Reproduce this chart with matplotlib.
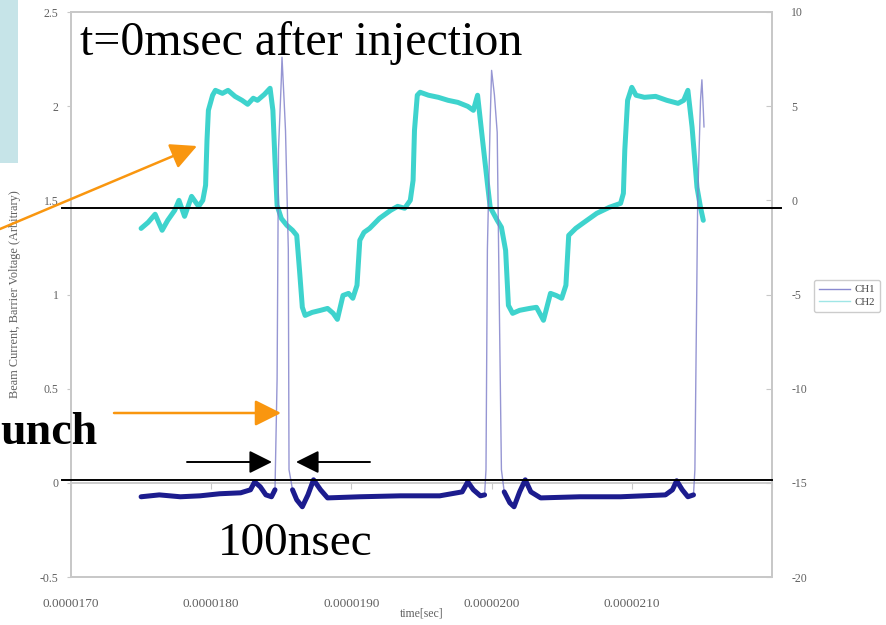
import numpy as np
import matplotlib
matplotlib.use("Agg")
import matplotlib.pyplot as plt
from matplotlib.ticker import FormatStrFormatter
from matplotlib.lines import Line2D
import matplotlib.transforms as mtrans

plt.rcParams["axes.unicode_minus"] = False

# ---------------- data (time in microseconds) ----------------
ch1_t_us = [17.50, 17.63, 17.78, 17.92, 18.06, 18.21, 18.28, 18.31, 18.35, 18.39,
            18.43, 18.455, 18.47, 18.48, 18.50, 18.505, 18.52, 18.53, 18.55, 18.555,
            18.58, 18.61, 18.65, 18.69, 18.73, 18.78, 18.83, 19.06, 19.35, 19.63,
            19.79, 19.83, 19.87, 19.92, 19.95, 19.96, 19.97, 19.99, 20.00, 20.02,
            20.04, 20.05, 20.07, 20.09, 20.13, 20.16, 20.20, 20.24, 20.28, 20.35,
            20.63, 20.92, 21.24, 21.29, 21.32, 21.36, 21.40, 21.44, 21.45, 21.47,
            21.49, 21.50, 21.51, 21.515]
ch1_val = [-0.074, -0.064, -0.074, -0.069, -0.058, -0.053, -0.037, 0.005, -0.021, -0.064,
           -0.074, -0.037, 0.55, 1.77, 2.14, 2.26, 2.03, 1.87, 1.24, 0.07,
           -0.037, -0.09, -0.127, -0.064, 0.016, -0.037, -0.080, -0.074, -0.069, -0.069,
           -0.048, 0.005, -0.037, -0.069, -0.064, 0.07, 1.24, 1.93, 2.19, 2.06,
           1.86, 1.24, 0.07, -0.048, -0.106, -0.127, -0.048, 0.016, -0.048, -0.080,
           -0.074, -0.074, -0.064, -0.037, 0.011, -0.037, -0.074, -0.064, 0.07, 1.50,
           2.03, 2.14, 1.98, 1.89]

ch2_t_us = [17.50, 17.55, 17.60, 17.65, 17.69, 17.74, 17.77, 17.81, 17.86, 17.91,
            17.94, 17.96, 17.97, 17.98, 18.01, 18.03, 18.08, 18.12, 18.17, 18.22,
            18.26, 18.30, 18.33, 18.38, 18.42, 18.44, 18.455, 18.47, 18.50, 18.54,
            18.58, 18.61, 18.63, 18.65, 18.67, 18.72, 18.78, 18.83, 18.87, 18.90,
            18.94, 18.98, 19.01, 19.04, 19.06, 19.09, 19.13, 19.20, 19.28, 19.33,
            19.38, 19.42, 19.44, 19.45, 19.47, 19.49, 19.55, 19.62, 19.69, 19.76,
            19.83, 19.87, 19.90, 19.93, 19.97, 19.99, 20.04, 20.07, 20.10, 20.12,
            20.15, 20.20, 20.27, 20.32, 20.37, 20.42, 20.46, 20.50, 20.53, 20.55,
            20.60, 20.65, 20.75, 20.84, 20.92, 20.94, 20.95, 20.97, 21.00, 21.03,
            21.09, 21.17, 21.25, 21.33, 21.37, 21.40, 21.43, 21.465, 21.49, 21.51]
ch2_val = [-1.49, -1.17, -0.74, -1.59, -1.06, -0.53, 0.00, -0.85, 0.21, -0.32,
           0.00, 0.80, 3.19, 4.78, 5.58, 5.84, 5.68, 5.84, 5.52, 5.31,
           5.10, 5.42, 5.31, 5.63, 5.95, 4.78, 2.12, -0.27, -0.96, -1.33,
           -1.59, -1.86, -3.72, -5.68, -6.11, -5.95, -5.84, -5.74, -6.00, -6.32,
           -5.05, -4.94, -5.20, -4.51, -2.12, -1.70, -1.49, -0.96, -0.53, -0.32,
           -0.42, 0.00, 1.06, 3.72, 5.58, 5.74, 5.58, 5.47, 5.31, 5.20,
           4.99, 4.78, 5.58, 3.56, 0.90, -0.37, -1.06, -1.43, -2.66, -5.58,
           -6.00, -5.84, -5.74, -5.68, -6.37, -4.94, -5.05, -5.20, -4.51, -1.86,
           -1.49, -1.22, -0.69, -0.37, -0.16, 0.37, 2.66, 5.31, 6.00, 5.58,
           5.47, 5.52, 5.31, 5.15, 5.31, 5.84, 3.88, 0.69, -0.37, -1.06]

x_ticks_us = [17, 18, 19, 20, 21]
left_ticks = [-0.5, 0, 0.5, 1, 1.5, 2, 2.5]
right_ticks = [-20, -15, -10, -5, 0, 5, 10]

# ---------------- figure ----------------
W, H = 887, 625
fig = plt.figure(figsize=(W / 100, H / 100), dpi=100)
fig.patch.set_facecolor("white")

def fx(px):
    return px / W

def fy(py):
    return 1 - py / H

# slide decoration (light blue box at top-left)
fig.patches.append(plt.Rectangle((0, fy(163)), fx(18), 163 / H, transform=fig.transFigure,
                                 facecolor="#c6e4e8", edgecolor="none", zorder=0))

L, R, T, B = 71, 772, 12, 577
ax = fig.add_axes([fx(L), fy(B), (R - L) / W, (B - T) / H])
ax2 = ax.twinx()

serif = "Liberation Serif"
gray = "#c8c8c8"
tcol = "#606060"

t1 = np.array(ch1_t_us) * 1e-6
v1 = np.array(ch1_val)
t2 = np.array(ch2_t_us) * 1e-6
v2 = np.array(ch2_val)

ax.set_xlim(17e-6, 22e-6)
ax.set_ylim(-0.5, 2.5)
ax2.set_ylim(-20, 10)

# CH2 (right axis)
ax2.plot(t2, v2, color="#3ed3cd", lw=3.6, solid_capstyle="round", solid_joinstyle="round")

# CH1 (left axis) on top
ax.set_zorder(ax2.get_zorder() + 1)
ax.patch.set_visible(False)
ax.plot(t1, v1, color="#7c7cc8", lw=1.0, alpha=0.8)
v1_base = np.where(v1 < 0.03, v1, np.nan)
ax.plot(t1, v1_base, color="#1c1c8e", lw=3.6, solid_capstyle="round", solid_joinstyle="round")

# frame
for a in (ax, ax2):
    for s in a.spines.values():
        s.set_color(gray)
        s.set_linewidth(1.3)

# x ticks: labels at bottom, tick marks on the y=0 line
ax.set_xticks(np.array(x_ticks_us) * 1e-6)
ax.xaxis.set_major_formatter(FormatStrFormatter("%.7f"))
ax.tick_params(axis="x", length=0, pad=15, labelsize=9.5, labelcolor=tcol)
sec = ax.secondary_xaxis(0.5 / 3.0)
sec.set_xticks(np.array(x_ticks_us + [22]) * 1e-6)
sec.tick_params(axis="x", direction="out", length=4, color=gray, labelbottom=False, labelsize=0)
sec.spines["bottom"].set_color(gray)
sec.spines["bottom"].set_linewidth(1.3)

ax.set_yticks(left_ticks)
ax.set_yticklabels([f"{v:g}" for v in left_ticks])
ax.tick_params(axis="y", direction="out", length=3, color=gray, pad=6, labelsize=8.5, labelcolor=tcol)
ax2.set_yticks(right_ticks)
ax2.tick_params(axis="y", direction="in", length=4, color=gray, pad=14, labelsize=8.5, labelcolor=tcol)

for lab in ax.get_xticklabels() + ax.get_yticklabels() + ax2.get_yticklabels():
    lab.set_fontfamily(serif)

ax.set_xlabel("time[sec]", fontsize=8.5, family=serif, color=tcol)
ax.xaxis.set_label_coords(0.5, -(608 - B) / (B - T))
ax.set_ylabel("Beam Current, Barrier Voltage (Arbitrary)", fontsize=8.8, family=serif, color=tcol)
ax.yaxis.set_label_coords(-(L - 21) / (R - L), 0.5)

# legend
leg_handles = [Line2D([], [], color="#8a8ad0", lw=1.0), Line2D([], [], color="#9fe6e6", lw=1.0)]
leg = fig.legend(leg_handles, ["CH1", "CH2"], loc="center left",
                 bbox_to_anchor=(fx(814), fy(296)), prop={"family": serif, "size": 7.8},
                 frameon=True, fancybox=True, handlelength=2.9, handletextpad=0.4,
                 borderpad=0.45, labelspacing=0.3, borderaxespad=0)
leg.get_frame().set_edgecolor("#c0c0c0")
leg.get_frame().set_linewidth(1.0)
for txt in leg.get_texts():
    txt.set_color("#404040")

# black horizontal reference lines (annotation on the slide)
blend = mtrans.blended_transform_factory(ax.transAxes, ax.transData)
ax.plot([-0.013, 1.013], [1.457, 1.457], color="black", lw=1.4, transform=blend, clip_on=False, zorder=5)
ax.plot([-0.013, 1.0], [0.017, 0.017], color="black", lw=1.4, transform=blend, clip_on=False, zorder=5)

# texts
fig.text(fx(80), fy(55), "t=0msec after injection", family=serif, fontsize=34.5, va="baseline", ha="left")
fig.text(fx(218), fy(555), "100nsec", family=serif, fontsize=34, va="baseline", ha="left")
fig.text(fx(0), fy(444), "unch", family=serif, fontsize=33, weight="bold", va="baseline", ha="left")

# arrows
orange = "#f9960f"
def arrow(x0, y0, x1, y1, color, lw, ms):
    fig.add_artist(matplotlib.patches.FancyArrowPatch(
        (fx(x0), fy(y0)), (fx(x1), fy(y1)), transform=fig.transFigure,
        arrowstyle="-|>,head_length=1.0,head_width=0.5", mutation_scale=ms,
        color=color, lw=lw, shrinkA=0, shrinkB=0, zorder=10))

arrow(0, 229, 197, 146, orange, 1.8, 16)
arrow(114, 413, 281, 413, orange, 1.8, 16)
arrow(187, 462, 272, 462, "black", 1.4, 14)
arrow(370, 462, 296, 462, "black", 1.4, 14)

fig.savefig("out.png", dpi=100)
